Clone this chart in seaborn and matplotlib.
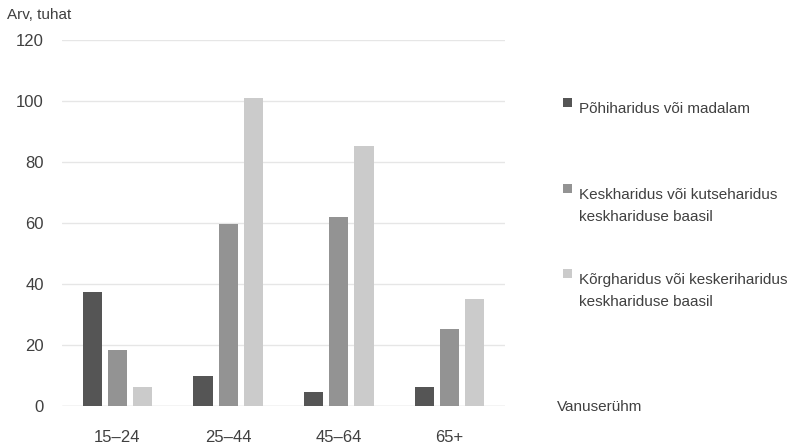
import pandas as pd
import matplotlib
matplotlib.use('Agg')
import matplotlib.pyplot as plt
import seaborn as sns
from matplotlib.patches import Rectangle

# data
age_groups = ['15–24', '25–44', '45–64', '65+']
education = ['Põhiharidus või madalam',
             'Keskharidus või kutseharidus\nkeskhariduse baasil',
             'Kõrgharidus või keskeriharidus\nkeskhariduse baasil']
basic = [37.5, 9.7, 4.5, 6.1]
secondary = [18.2, 59.7, 62.1, 25.3]
higher = [6.2, 100.9, 85.3, 35.0]
colors = ['#555555', '#939393', '#cbcbcb']

df = pd.DataFrame({
    'age': age_groups * 3,
    'edu': [education[0]] * 4 + [education[1]] * 4 + [education[2]] * 4,
    'value': basic + secondary + higher,
})

sns.set_style('white')
plt.rcParams['font.family'] = ['Liberation Sans', 'DejaVu Sans']
txt = '#404040'

W, H = 789, 446
fig = plt.figure(figsize=(W / 100, H / 100), dpi=100)
ax = fig.add_axes([62 / W, 1 - 406 / H, 443 / W, 366 / H])

sns.barplot(data=df, x='age', y='value', hue='edu', hue_order=education,
            palette=colors, width=0.68, gap=0.24, ax=ax, saturation=1,
            edgecolor='none', legend=False)

ax.set_ylim(0, 120)
ax.set_xlim(-0.5, 3.5)
ax.set_yticks(range(0, 121, 20))
ax.yaxis.grid(True, color='#e6e6e6', linewidth=1)
ax.set_axisbelow(True)
sns.despine(ax=ax, left=True, bottom=True)
ax.axhline(0, color='#e0e0e0', linewidth=1, zorder=0)
ax.tick_params(axis='both', length=0, labelsize=12, labelcolor=txt)
ax.tick_params(axis='y', pad=13)
ax.tick_params(axis='x', pad=17)
ax.set_xlabel('')
ax.set_ylabel('')

def px(x, y):
    return x / W, 1 - y / H

fig.text(*px(7, 15), 'Arv, tuhat', fontsize=11, color=txt, va='center')
fig.text(*px(557, 407), 'Vanuserühm', fontsize=11, color=txt, va='center')

# legend, square aligned with the first text line
legend_y = [102, 188, 273]
for label, col, y in zip(education, colors, legend_y):
    x0, y0 = px(563, y + 4.5)
    fig.patches.append(Rectangle((x0, y0), 9 / W, 9 / H, transform=fig.transFigure,
                                 facecolor=col, edgecolor='none', figure=fig))
    fig.text(*px(579, y), label, fontsize=11, color=txt, va='top',
             linespacing=1.75, transform=fig.transFigure)
    
fig.savefig('out.png', dpi=100)
